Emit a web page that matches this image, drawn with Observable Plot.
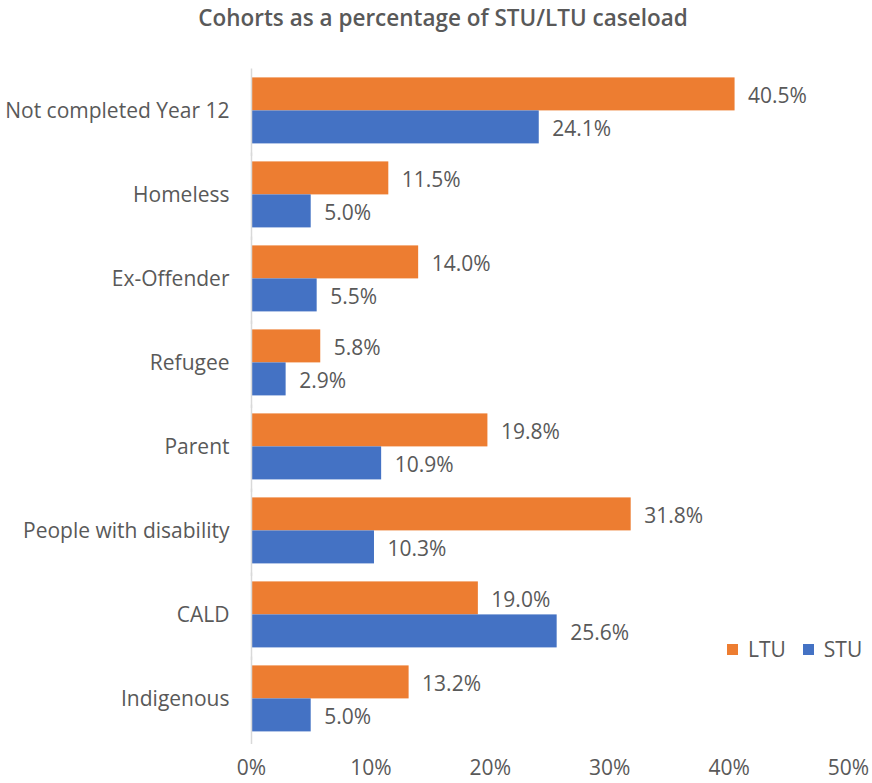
<!DOCTYPE html>
<html>
<head>
<meta charset="utf-8">
<script src="https://cdn.jsdelivr.net/npm/d3@7"></script>
<script src="https://cdn.jsdelivr.net/npm/@observablehq/plot@0.6"></script>
<style>
  body { margin: 0; background: #fff; font-family: "Open Sans", sans-serif; }
  #wrap { position: relative; width: 872px; height: 783px; }
  #title { height: 36px; line-height: 36px; text-align: center; padding-left: 14px; font-size: 22.5px; font-weight: 600; color: #595959; white-space: nowrap; }
  #legend { position: absolute; left: 727px; top: 635px; display: flex; align-items: center; font-size: 21px; color: #595959; }
  #legend .item { display: flex; align-items: center; margin-right: 17px; }
  #legend .sw { width: 11px; height: 11px; margin-right: 10px; }
</style>
</head>
<body>
<div id="wrap">
  <div id="title">Cohorts as a percentage of STU/LTU caseload</div>
  <div id="chart"></div>
  <div id="legend"></div>
</div>
<script>
const categories = ["Not completed Year 12", "Homeless", "Ex-Offender", "Refugee", "Parent", "People with disability", "CALD", "Indigenous"];
const seriesNames = ["LTU", "STU"];
const seriesColors = ["#ED7D31", "#4472C4"];
const ltu = [40.5, 11.5, 14.0, 5.8, 19.8, 31.8, 19.0, 13.2];
const stu = [24.1, 5.0, 5.5, 2.9, 10.9, 10.3, 25.6, 5.0];
const xTicks = [0, 10, 20, 30, 40, 50];

const rows = [];
categories.forEach((c, i) => {
  rows.push({category: c, series: "LTU", value: ltu[i]});
  rows.push({category: c, series: "STU", value: stu[i]});
});

const plot = Plot.plot({
  width: 872,
  height: 747,
  marginLeft: 251,
  marginRight: 24,
  marginTop: 32.6,
  marginBottom: 42.4,
  style: {fontSize: "21px", fontFamily: "Open Sans, sans-serif", color: "#595959", background: "#fff"},
  facet: {data: rows, y: "category"},
  fy: {domain: categories, paddingInner: 0.2, paddingOuter: 0.1, label: null, tickSize: 0, tickPadding: 22},
  y: {domain: seriesNames, padding: 0, axis: null},
  x: {domain: [0, 50], ticks: xTicks, tickFormat: d => d + "%", tickSize: 0, tickPadding: 28, label: null, line: false},
  color: {domain: seriesNames, range: seriesColors},
  marks: [
    Plot.barX(rows, {x: "value", y: "series", fill: "series"}),
    Plot.text(rows, {x: "value", y: "series", text: d => d.value.toFixed(1) + "%", dx: 13, dy: 2, textAnchor: "start", fill: "#595959"}),
    Plot.ruleX([0], {stroke: "#d9d9d9", strokeWidth: 1.5, insetTop: -8.5, insetBottom: -12})
  ]
});
document.getElementById("chart").appendChild(plot);

const colorScale = plot.scale("color");
const legend = document.getElementById("legend");
colorScale.domain.forEach((name, i) => {
  const item = document.createElement("div");
  item.className = "item";
  const sw = document.createElement("div");
  sw.className = "sw";
  sw.style.background = colorScale.range[i];
  const label = document.createElement("span");
  label.textContent = name;
  item.appendChild(sw);
  item.appendChild(label);
  legend.appendChild(item);
});
</script>
</body>
</html>
